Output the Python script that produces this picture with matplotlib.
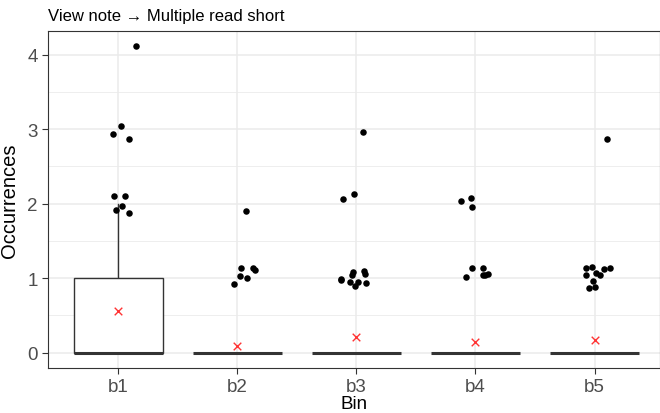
import matplotlib
matplotlib.use("Agg")
import matplotlib.pyplot as plt
import numpy as np

plt.rcParams['font.family'] = ['Liberation Sans', 'DejaVu Sans']

bins = ["b1", "b2", "b3", "b4", "b5"]
# box stats: q1, median, q3, upper whisker
q1 = [0, 0, 0, 0, 0]
med = [0, 0, 0, 0, 0]
q3 = [1, 0, 0, 0, 0]
whi_hi = [2, 0, 0, 0, 0]
means = [0.555, 0.094, 0.206, 0.143, 0.17]

# jittered points (horizontal offset, value) per bin
pts_dx = [
    [0.149, 0.025, -0.04, 0.09, -0.036, 0.053, 0.034, -0.02, 0.09],
    [0.073, 0.028, 0.02, 0.078, -0.025, 0.134, 0.151],
    [0.059, -0.115, -0.022, -0.132, -0.132, -0.05, -0.034, -0.025, -0.008, 0.014, 0.064, 0.07, 0.081],
    [-0.123, -0.034, -0.025, -0.031, -0.078, 0.067, 0.064, 0.084, 0.104],
    [0.109, -0.07, -0.017, -0.07, 0.014, 0.042, 0.078, 0.134, -0.011, -0.05, 0.006],
]
pts_val = [
    [4.11, 3.047, 2.93, 2.86, 2.098, 2.107, 1.969, 1.915, 1.87],
    [1.902, 1.137, 1.03, 1.002, 0.922, 1.132, 1.11],
    [2.966, 2.067, 2.125, 0.993, 0.98, 0.953, 1.047, 1.087, 0.899, 0.944, 1.096, 1.056, 0.935],
    [2.04, 2.08, 1.955, 1.137, 1.02, 1.137, 1.038, 1.047, 1.06],
    [2.86, 1.137, 1.15, 1.038, 1.07, 1.038, 1.128, 1.14, 0.957, 0.863, 0.881],
]

fig = plt.figure(figsize=(6.6, 4.14), dpi=100)
ax = fig.add_axes([48 / 660, 1 - 369 / 414, 612 / 660, 337 / 414])

x = np.arange(1, len(bins) + 1)
w = 0.75
lc = '#333333'
for i, xi in enumerate(x):
    # whisker
    if whi_hi[i] > q3[i]:
        ax.plot([xi, xi], [q3[i], whi_hi[i]], color=lc, lw=1.0, zorder=2)
    if q3[i] > q1[i]:
        ax.add_patch(plt.Rectangle((xi - w / 2, q1[i]), w, q3[i] - q1[i],
                                   facecolor='white', edgecolor=lc, lw=1.0, zorder=2))
    ax.plot([xi - w / 2, xi + w / 2], [med[i], med[i]], color=lc, lw=2.2,
            solid_capstyle='butt', zorder=3)
    ax.scatter(xi + np.array(pts_dx[i]), pts_val[i], s=22, color='black', zorder=4, lw=0)
    ax.scatter(xi, means[i], marker='x', s=30, color='#FF3333', lw=1.0, zorder=5)

ax.set_xlim(0.41, 5.55)
ax.set_ylim(-0.2055, 4.3155)
ax.set_xticks(x)
ax.set_xticklabels(bins)
ax.set_yticks([0, 1, 2, 3, 4])
ax.set_yticks([0.5, 1.5, 2.5, 3.5], minor=True)
ax.tick_params(which='minor', length=0)
ax.tick_params(which='major', length=4, color='#333333', labelsize=13.5, labelcolor='#4D4D4D')
ax.tick_params(axis='x', pad=3)
ax.grid(which='major', color='#EBEBEB', lw=1.1, zorder=0)
ax.grid(which='minor', axis='y', color='#EBEBEB', lw=0.6, zorder=0)
ax.set_axisbelow(True)
for s in ax.spines.values():
    s.set_color('#333333')
    s.set_linewidth(0.8)

ax.set_ylabel("Occurrences", fontsize=14.5, labelpad=6)
ax.set_xlabel("Bin", fontsize=13.5, labelpad=0)
fig.text(48 / 660, 1 - 16 / 414, "View note \u2192 Multiple read short", fontsize=12,
         va='center', ha='left', color='black')

fig.savefig("out.png", dpi=100)
